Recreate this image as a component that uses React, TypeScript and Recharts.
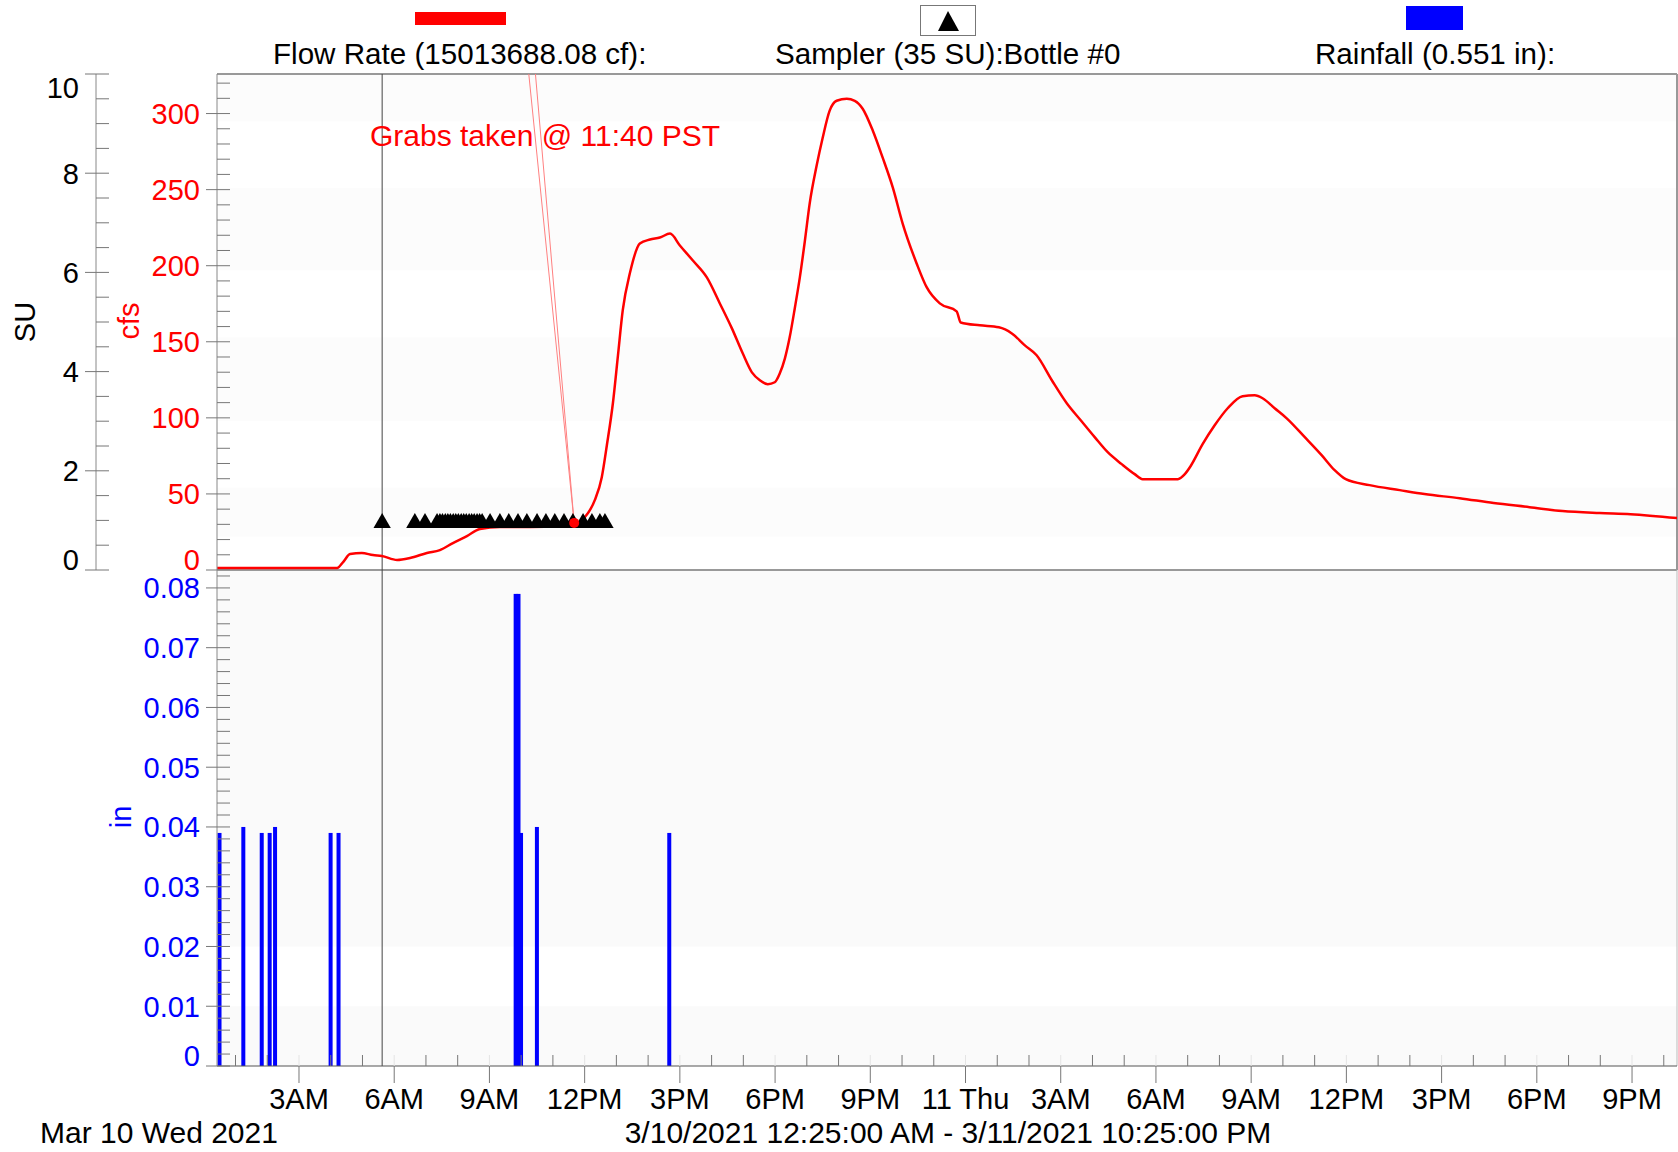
import React from "react";
import {
  ComposedChart, Line, Scatter, XAxis, YAxis, ZAxis, ReferenceLine, ReferenceDot, ReferenceArea, BarChart, Bar
} from "recharts";

// hours since Mar 10 00:00
const START = 0.4167; // 12:25 AM
const END = 46.4167;  // 3/11 10:25 PM
const MARKER = 5.62;
const GRAB = 11.67;

const flowHours = [
  0.42, 4.2, 4.39, 4.61, 4.98, 5.33, 5.61, 6.09, 6.5, 7.03,
  7.44, 7.85, 8.29, 8.7, 9.33, 10.28, 11.22, 11.76, 12.01, 12.32,
  12.54, 12.7, 12.89, 13.05, 13.2, 13.43, 13.74, 14.06, 14.37, 14.69,
  15.0, 15.41, 15.85, 16.26, 16.64, 16.98, 17.27, 17.52, 17.77, 17.99,
  18.15, 18.31, 18.46, 18.62, 18.78, 18.94, 19.09, 19.31, 19.5, 19.72,
  19.94, 20.26, 20.51, 20.76, 21.08, 21.39, 21.71, 22.02, 22.46, 22.78,
  23.19, 23.72, 23.85, 24.45, 25.05, 25.46, 25.87, 26.24, 26.72, 27.19,
  27.63, 28.07, 28.48, 28.92, 29.33, 29.58, 30.12, 30.69, 30.91, 31.09,
  31.47, 31.85, 32.26, 32.73, 33.11, 33.36, 33.74, 34.12, 34.69, 35.22,
  35.63, 35.98, 36.73, 37.68, 38.46, 39.57, 40.64, 41.77, 42.81, 43.98,
  44.95, 46.42
];
const flowCfs = [
  1.3, 1.3, 5.2, 10.5, 11.2, 9.8, 9.2, 6.6, 7.9, 11.2,
  13.1, 17.7, 22.3, 26.9, 28.2, 28.2, 28.9, 30.8, 34.8, 45.9,
  61.0, 82.0, 109.6, 141.1, 170.6, 195.5, 214.6, 217.2, 218.5, 221.1,
  213.3, 203.4, 192.3, 175.2, 158.8, 142.4, 129.9, 124.7, 122.1, 123.4,
  129.3, 139.1, 152.9, 171.9, 192.3, 216.5, 240.8, 265.8, 284.1, 301.9,
  308.4, 309.7, 308.4, 303.2, 288.7, 271.0, 251.3, 227.7, 201.5, 185.7,
  175.2, 170.0, 162.7, 160.8, 159.5, 155.5, 147.6, 141.1, 124.7, 109.6,
  98.4, 87.3, 77.4, 69.6, 63.0, 59.7, 59.7, 59.7, 63.0, 68.2,
  82.7, 95.1, 106.3, 114.2, 114.8, 112.9, 106.3, 99.7, 87.3, 75.5,
  65.6, 59.7, 55.8, 52.5, 49.9, 47.2, 44.0, 41.3, 38.7, 37.4,
  36.7, 34.1
];

const samplerHours = [
  5.62, 6.65, 6.97, 7.35,
  7.44, 7.52, 7.61, 7.69, 7.77, 7.86, 7.94, 8.02, 8.11, 8.19, 8.27, 8.36, 8.44, 8.52, 8.61, 8.69, 8.77,
  9.02, 9.33, 9.61, 9.9, 10.18, 10.5, 10.78, 11.06, 11.35, 11.63, 11.95, 12.23, 12.48, 12.64
];
const samplerSU = 0.95;

const rainHours = [0.5, 1.25, 1.83, 2.08, 2.25, 4.0, 4.25, 9.83, 9.92, 10.0, 10.5, 14.67];
const rainInches = [0.039, 0.04, 0.039, 0.039, 0.04, 0.039, 0.039, 0.079, 0.079, 0.039, 0.04, 0.039];

const suLabels = [0, 2, 4, 6, 8, 10];
const cfsLabels = [0, 50, 100, 150, 200, 250, 300];
const rainLabels = [0, 0.01, 0.02, 0.03, 0.04, 0.05, 0.06, 0.07, 0.08];
const hourLabels: Record<number, string> = {
  3: "3AM", 6: "6AM", 9: "9AM", 12: "12PM", 15: "3PM", 18: "6PM", 21: "9PM",
  24: "11 Thu", 27: "3AM", 30: "6AM", 33: "9AM", 36: "12PM", 39: "3PM", 42: "6PM", 45: "9PM"
};
// faint background bands (cfs ranges in the flow pane)
const flowBands = [[22, 54], [98, 153], [197, 251], [295, 326]];

const flowData = flowHours.map((h, i) => ({ h, cfs: flowCfs[i] }));
const samplerData = samplerHours.map((h) => ({ h, su: samplerSU }));
const rainData = rainHours.map((h, i) => ({ h, rain: rainInches[i] }));

const range = (n: number, step: number) =>
  Array.from({ length: n }, (_, i) => Number((i * step).toFixed(4)));
const suTicks = range(21, 0.5);
const cfsTicks = range(33, 10);
const rainTicks = range(42, 0.002);
const hourTicks = range(46, 1).map((v) => v + 1);

const FONT = "'Liberation Sans', Arial, sans-serif";
const FS = 29;
const TICK = "#777";
const BAND = "#fafafa";

const isLabel = (list: number[], v: number) => list.some((l) => Math.abs(l - v) < 1e-6);

// left axes: major tick outward + label, minor tick inward
function makeYTick(labels: number[], color: string, max: number, fmt: (v: number) => string) {
  return (props: any) => {
    const { x, y, payload } = props;
    const v = payload.value;
    const inner = <line x1={x} x2={x + 13} y1={y} y2={y} stroke={TICK} />;
    if (!isLabel(labels, v)) return <g>{inner}</g>;
    const shift = v === 0 ? -11 : Math.abs(v - max) < 1e-6 ? 13 : 0;
    return (
      <g>
        {inner}
        <line x1={x - 11} x2={x} y1={y} y2={y} stroke={TICK} />
        <text x={x - 17} y={y + shift} dy={10.5} textAnchor="end" fill={color}
          fontSize={FS} fontFamily={FONT}>{fmt(v)}</text>
      </g>
    );
  };
}

const SuTick = makeYTick(suLabels, "#000", 10, (v) => String(v));
const CfsTick = makeYTick(cfsLabels, "#ff0000", 999, (v) => String(v));
const RainTick = makeYTick(rainLabels, "#0000ff", 999, (v) => (v === 0 ? "0" : v.toFixed(2)));

function HourTick(props: any) {
  const { x, y, payload } = props;
  const label = hourLabels[payload.value];
  if (!label) return <line x1={x} x2={x} y1={y} y2={y - 11} stroke={TICK} />;
  return (
    <g>
      <line x1={x} x2={x} y1={y} y2={y - 11} stroke="#e4e4e4" />
      <line x1={x} x2={x} y1={y} y2={y + 17} stroke={TICK} />
      <text x={x} y={y + 43} textAnchor="middle" fill="#000" fontSize={FS} fontFamily={FONT}>{label}</text>
    </g>
  );
}

// rain bars are 5-minute totals; keep them 4px wide even where they touch
function RainBar(props: any) {
  const { x, y, width, height, fill } = props;
  if (!height) return <g />;
  return <rect x={x + width / 2 - 2} y={y} width={4} height={height} fill={fill} />;
}

function RotTitle({ cx, cy, text, color }: { cx: number; cy: number; text: string; color: string }) {
  return (
    <text transform={`translate(${cx},${cy}) rotate(-90)`} textAnchor="middle" dy="0.36em"
      fill={color} fontSize={FS} fontFamily={FONT}>{text}</text>
  );
}

export default function App() {
  return (
    <div style={{ position: "absolute", left: 0, top: 0, width: 1678, height: 1152, background: "#fff", overflow: "hidden" }}>
      {/* Flow + sampler pane */}
      <div style={{ position: "absolute", left: 0, top: 0 }}>
        <ComposedChart width={1678} height={592} margin={{ top: 74, right: 1, bottom: 22, left: 0 }}>
          <XAxis dataKey="h" type="number" domain={[START, END]} hide allowDataOverflow />
          <YAxis yAxisId="cfs" type="number" domain={[0, 326]} ticks={cfsTicks} interval={0}
            width={121} tickSize={0} tickMargin={0} tickLine={false} axisLine={{ stroke: "#888" }}
            tick={CfsTick} allowDataOverflow />
          <YAxis yAxisId="su" type="number" domain={[0, 10]} ticks={suTicks} interval={0}
            width={96} tickSize={0} tickMargin={0} tickLine={false} axisLine={{ stroke: "#888" }}
            tick={SuTick} allowDataOverflow />
          <ZAxis range={[130, 130]} />
          {flowBands.map(([a, b]) => (
            <ReferenceArea key={a} yAxisId="cfs" y1={a} y2={b} fill="#fcfcfc" fillOpacity={1} stroke="none" />
          ))}
          <ReferenceLine yAxisId="su" y={10} stroke="#999" strokeWidth={2} />
          <ReferenceLine yAxisId="su" y={0} stroke="#999" strokeWidth={2} />
          <ReferenceLine yAxisId="su" x={END} stroke="#999" strokeWidth={2} />
          <ReferenceLine yAxisId="su" x={MARKER} stroke="#444" strokeWidth={1} />
          <ReferenceLine yAxisId="su" segment={[{ x: 10.24, y: 10 }, { x: GRAB, y: samplerSU }]} stroke="#ff8080" strokeWidth={1} />
          <ReferenceLine yAxisId="su" segment={[{ x: 10.45, y: 10 }, { x: GRAB, y: samplerSU }]} stroke="#ff8080" strokeWidth={1} />
          <Line yAxisId="cfs" data={flowData} dataKey="cfs" type="monotone" stroke="#ff0000"
            strokeWidth={2.5} dot={false} isAnimationActive={false} />
          <Scatter yAxisId="su" data={samplerData} dataKey="su" shape="triangle" fill="#000"
            isAnimationActive={false} />
          <ReferenceDot yAxisId="su" x={GRAB} y={samplerSU} r={5} fill="#ff0000" stroke="none" />
        </ComposedChart>
      </div>

      {/* Rainfall pane */}
      <div style={{ position: "absolute", left: 0, top: 570 }}>
        <BarChart width={1678} height={582} data={rainData} margin={{ top: 0, right: 1, bottom: 26, left: 0 }}>
          <XAxis dataKey="h" type="number" domain={[START, END]} ticks={hourTicks} interval={0}
            height={60} tickSize={0} tickMargin={0} tickLine={false} axisLine={{ stroke: "#555" }}
            tick={HourTick} allowDataOverflow />
          <YAxis type="number" domain={[0, 0.083]} ticks={rainTicks} interval={0}
            width={217} tickSize={0} tickMargin={0} tickLine={false} axisLine={{ stroke: "#888" }}
            tick={RainTick} allowDataOverflow />
          <ReferenceArea y1={0.02} y2={0.083} fill={BAND} fillOpacity={1} stroke="none" />
          <ReferenceArea y1={0} y2={0.01} fill={BAND} fillOpacity={1} stroke="none" />
          <ReferenceLine y={0.083} stroke="#999" strokeWidth={2} />
          <ReferenceLine x={MARKER} stroke="#444" strokeWidth={1} />
          <ReferenceLine x={END} stroke="#bbb" strokeWidth={1} />
          <Bar dataKey="rain" fill="#0000ff" barSize={4} shape={RainBar} isAnimationActive={false} />
        </BarChart>
      </div>

      {/* legend, titles and notes */}
      <svg width={1678} height={1152} style={{ position: "absolute", left: 0, top: 0, pointerEvents: "none" }}>
        <rect x={415} y={12} width={91} height={13} fill="#ff0000" />
        <rect x={920.5} y={5.5} width={55} height={30} fill="#fff" stroke="#777" />
        <path d="M948 11 L959 31 L938 31 Z" fill="#000" />
        <rect x={1406} y={6} width={57} height={24} fill="#0000ff" />
        <g fontSize={29.6} fontFamily={FONT} fill="#000">
          <text x={273} y={64}>Flow Rate (15013688.08 cf):</text>
          <text x={775} y={64}>Sampler (35 SU):Bottle #0</text>
          <text x={1315} y={64}>Rainfall (0.551 in):</text>
        </g>
        <text x={370} y={146} fontSize={30} fontFamily={FONT} fill="#ff0000">Grabs taken @ 11:40 PST</text>
        <RotTitle cx={25} cy={322} text="SU" color="#000" />
        <RotTitle cx={129} cy={321} text="cfs" color="#ff0000" />
        <RotTitle cx={121} cy={817} text="in" color="#0000ff" />
        <g fontSize={30} fontFamily={FONT} fill="#000">
          <text x={40} y={1143}>Mar 10 Wed 2021</text>
          <text x={948} y={1143} textAnchor="middle">3/10/2021 12:25:00 AM - 3/11/2021 10:25:00 PM</text>
        </g>
      </svg>
    </div>
  );
}
